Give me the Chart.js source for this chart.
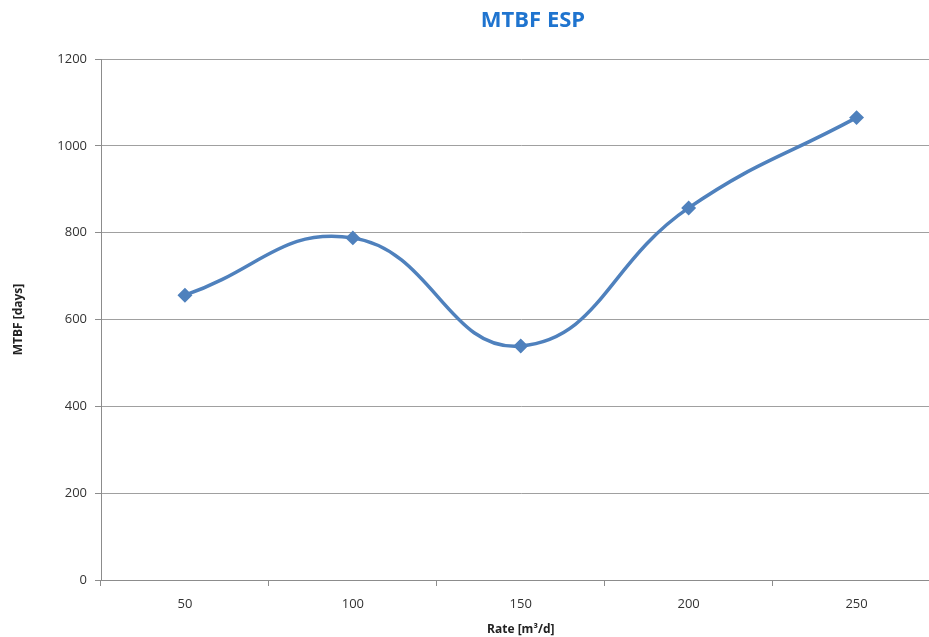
<!DOCTYPE html>
<html>
<head>
<meta charset="utf-8">
<script src="https://cdn.jsdelivr.net/npm/chart.js@4.4.1/dist/chart.umd.min.js"></script>
<style>
  html, body { margin: 0; padding: 0; background: #fff; overflow: hidden; }
  #wrap { position: relative; width: 949px; height: 637px; }
</style>
</head>
<body>
<div id="wrap"><canvas id="c" width="949" height="637"></canvas></div>
<script>
// Rate categories (m³/d) and mean time between failures (days)
const rates = ['50', '100', '150', '200', '250'];
const mtbf = [656, 788, 539, 857, 1065];
const yTicks = [0, 200, 400, 600, 800, 1000, 1200];

const chartTitle = 'MTBF ESP';
const xTitle = 'Rate [m³/d]';
const yTitle = 'MTBF [days]';

const FONT = '"Open Sans", "Liberation Sans", sans-serif';
const axisGray = '#8c8c8c';

// Title drawn centred over the plot
const titlePlugin = {
  id: 'plotTitle',
  afterDraw(chart) {
    const ctx = chart.ctx;
    ctx.save();
    ctx.font = 'bold 22px ' + FONT;
    ctx.fillStyle = '#1f74cf';
    ctx.textAlign = 'center';
    ctx.textBaseline = 'middle';
    ctx.fillText(chartTitle, 533, 21);
    ctx.restore();
  }
};

new Chart(document.getElementById('c'), {
  type: 'line',
  data: {
    labels: rates,
    datasets: [{
      data: mtbf,
      borderColor: '#4f81bd',
      backgroundColor: '#4f81bd',
      borderWidth: 3.5,
      tension: 0.45,
      pointStyle: 'rectRot',
      pointRadius: 5,
      pointHoverRadius: 5,
      fill: false
    }]
  },
  options: {
    responsive: false,
    animation: false,
    layout: { padding: { top: 59, right: 0, bottom: 0, left: 0 } },
    plugins: {
      legend: { display: false },
      tooltip: { enabled: false },
      title: { display: false }
    },
    scales: {
      x: {
        type: 'category',
        offset: true,
        grid: {
          offset: true,
          drawOnChartArea: false,
          drawTicks: true,
          tickLength: 6,
          color: axisGray
        },
        border: { display: true, color: axisGray, width: 1 },
        ticks: {
          color: '#333',
          font: { family: FONT, size: 13 },
          padding: 10,
          maxRotation: 0
        },
        title: {
          display: true,
          text: xTitle,
          color: '#222',
          font: { family: FONT, size: 12, weight: 'bold' },
          padding: { top: 2, bottom: 0 }
        },
        afterFit(scale) { scale.height = 57; }
      },
      y: {
        min: 0,
        max: 1200,
        afterBuildTicks(scale) { scale.ticks = yTicks.map(v => ({ value: v })); },
        grid: {
          color: '#a0a0a0',
          lineWidth: 1,
          drawTicks: true,
          tickLength: 6,
          tickColor: axisGray
        },
        border: { display: true, color: axisGray, width: 1 },
        ticks: {
          color: '#333',
          font: { family: FONT, size: 13 },
          padding: 8,
          callback: (v) => String(v)
        },
        title: {
          display: true,
          text: yTitle,
          color: '#222',
          font: { family: FONT, size: 12, weight: 'bold' },
          padding: { top: 11, bottom: 4 }
        },
        afterFit(scale) { scale.width = 101; }
      }
    }
  },
  plugins: [titlePlugin]
});
</script>
</body>
</html>
